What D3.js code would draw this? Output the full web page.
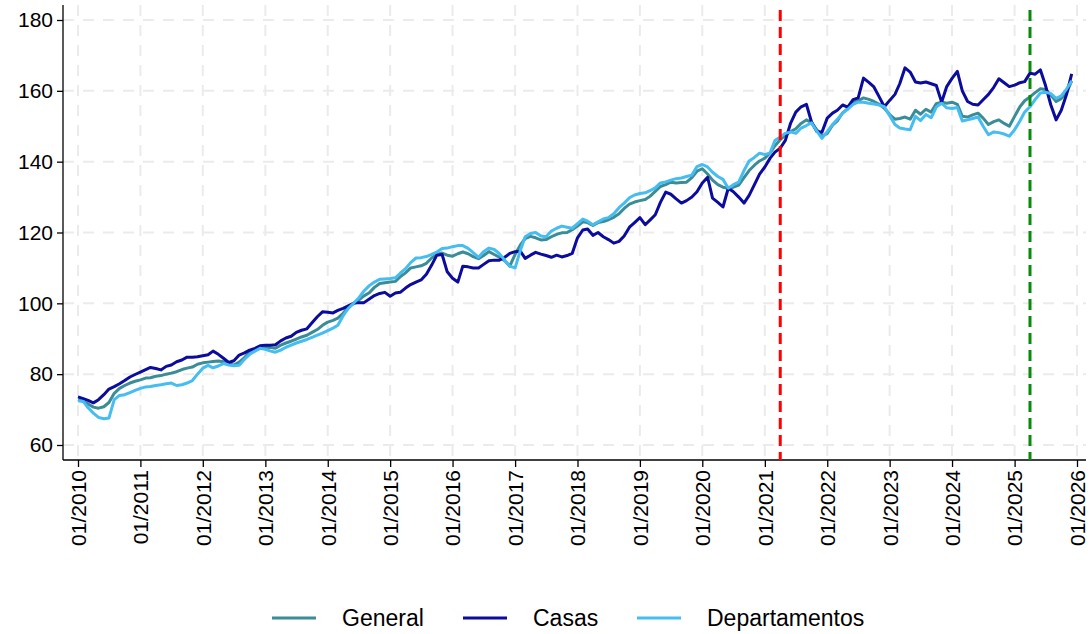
<!DOCTYPE html>
<html>
<head>
<meta charset="utf-8">
<script src="https://cdn.jsdelivr.net/npm/d3@7"></script>
<style>
  body { margin: 0; background: #fff; }
  svg { display: block; font-family: "Liberation Sans", Arial, sans-serif; }
</style>
</head>
<body>
<script>
// monthly index, 01/2010 .. 12/2025
const startMonth = "2010-01";
const endMonth = "2026-01";

const general = [
  72.8, 72.3, 71.6, 70.7, 70.4, 70.8, 72.0, 74.6, 76.0, 76.8, 77.5, 78.0,
  78.4, 78.9, 79.0, 79.4, 79.6, 80.0, 80.3, 80.7, 81.3, 81.7, 82.0, 82.8,
  83.2, 83.4, 83.6, 83.7, 83.5, 82.9, 82.6, 83.4, 84.7, 86.2, 87.0, 87.6,
  87.6, 87.5, 87.3, 88.2, 88.8, 89.3, 89.9, 90.5, 91.0, 91.8, 92.6, 93.8,
  94.7, 95.2, 95.8, 97.2, 98.9, 100.0, 100.9, 102.1, 103.0, 104.5, 105.6, 105.8,
  106.0, 106.2, 107.5, 108.6, 110.0, 110.3, 110.6, 111.3, 112.8, 113.8, 114.2, 113.6,
  113.3, 114.0, 114.5, 114.0, 113.2, 112.6, 113.5, 114.6, 113.8, 113.0, 112.0, 110.5,
  113.8, 116.5, 118.3, 118.9, 118.5, 117.9, 118.0, 118.8, 119.5, 119.9, 120.0, 120.8,
  121.8, 123.0, 122.8, 122.0, 122.8, 123.1, 123.6, 124.3, 125.3, 126.8, 128.0, 128.6,
  129.0, 129.3, 130.2, 131.6, 133.0, 133.5, 134.2, 134.0, 134.1, 134.2, 135.5, 137.3,
  138.0, 136.5, 134.8, 133.5, 132.8, 132.5, 132.8, 133.4, 135.5, 137.5, 139.0, 140.2,
  141.0, 142.5, 144.5, 146.2, 147.5, 148.5, 149.3, 150.8, 151.8, 151.0, 149.0, 147.2,
  148.0, 150.3, 151.5, 153.8, 155.0, 156.8, 157.2, 158.0, 157.6, 157.0, 156.2, 155.1,
  153.3, 152.0, 152.2, 152.6, 152.0, 154.5, 153.4, 154.8, 154.0, 156.4, 156.8, 156.5,
  156.8, 156.2, 152.8, 152.6, 153.2, 153.7, 152.3, 150.5, 151.3, 151.8, 150.8, 150.0,
  152.8, 155.5, 157.2, 158.3, 159.5, 160.6, 160.4, 158.8, 157.0, 157.8, 159.5, 162.8
];

const casas = [
  73.6, 73.1, 72.6, 71.9, 72.8, 74.2, 75.8, 76.5, 77.3, 78.2, 79.2, 79.9,
  80.6, 81.3, 81.9, 81.6, 81.2, 82.2, 82.6, 83.5, 84.0, 84.8, 84.8, 84.9,
  85.2, 85.5, 86.5, 85.6, 84.5, 83.3, 83.8, 85.4, 86.0, 86.8, 87.3, 88.0,
  88.2, 88.2, 88.3, 89.4, 90.2, 90.7, 91.8, 92.4, 92.8, 94.5, 96.2, 97.6,
  97.5, 97.3, 98.0, 98.6, 99.3, 100.0, 100.2, 100.2, 101.2, 102.2, 102.8, 103.1,
  102.0, 102.9, 103.1, 104.3, 105.3, 106.0, 106.6, 108.2, 110.8, 113.6, 113.8, 108.9,
  107.1, 106.0, 110.5, 110.3, 110.0, 110.0, 111.0, 112.0, 112.2, 112.2, 113.0, 114.1,
  114.6, 114.7, 112.7, 113.6, 114.4, 113.9, 113.5, 113.0, 113.6, 113.1, 113.5, 114.1,
  118.5, 120.7, 121.0, 119.2, 120.0, 118.8, 118.0, 117.0, 117.5, 119.0, 121.5, 122.8,
  124.2, 122.2, 123.5, 125.0, 128.5, 131.4, 130.8, 129.5, 128.3, 129.0, 130.0, 131.5,
  134.0, 135.6, 129.7, 128.5, 127.2, 132.5, 131.5, 130.0, 128.3, 130.5, 133.5, 136.5,
  138.5, 141.0, 142.7, 143.8, 146.0, 150.9, 154.0, 155.5, 156.2, 151.2, 148.5, 148.3,
  152.3, 153.7, 154.5, 156.0, 155.4, 157.5, 158.0, 163.6, 162.4, 161.1, 158.3, 155.5,
  157.3, 159.0, 162.0, 166.5, 165.3, 162.5, 162.2, 162.5, 162.0, 161.5, 156.8, 161.2,
  163.5, 165.5, 160.0, 157.0, 156.2, 156.0, 157.5, 159.0, 161.0, 163.4, 162.3, 161.2,
  161.6, 162.3, 162.6, 165.0, 164.7, 165.9, 161.5, 156.0, 151.8, 154.5, 159.0, 164.8
];

const departamentos = [
  72.5, 72.3, 70.5, 69.0, 67.8, 67.4, 67.6, 72.8, 74.0, 74.2, 74.8, 75.4,
  76.0, 76.4, 76.5, 76.8, 77.0, 77.3, 77.5, 76.8, 77.0, 77.5, 78.2, 80.0,
  81.7, 82.5, 81.8, 82.3, 83.0, 82.6, 82.4, 82.5, 84.2, 85.6, 86.5, 87.3,
  87.0, 86.5, 86.2, 86.8, 87.6, 88.2, 88.8, 89.3, 89.8, 90.4, 91.0, 91.6,
  92.3, 93.0, 93.8, 96.5, 98.6, 100.0, 101.5, 103.5, 105.0, 106.0, 106.8, 106.9,
  107.0, 107.2, 108.5, 109.8, 111.5, 112.8, 112.9, 113.2, 113.8, 114.5, 115.5, 115.6,
  116.0, 116.3, 116.3, 115.5, 114.3, 113.0, 114.6, 115.6, 115.2, 114.0, 112.2, 110.5,
  110.0, 115.0, 118.8, 119.7, 120.0, 119.0, 118.8, 120.4, 121.2, 121.8, 121.5, 121.2,
  122.5, 123.8, 123.2, 122.2, 123.0, 123.8, 124.2, 125.3, 127.0, 128.3, 129.8, 130.6,
  131.0, 131.2, 131.8, 132.6, 134.0, 134.3, 134.8, 135.2, 135.4, 135.8, 136.2, 138.6,
  139.2, 138.5, 137.0, 135.8, 135.0, 132.5, 133.5, 134.2, 137.5, 140.2, 141.2, 142.4,
  142.0, 142.5, 146.0, 147.0, 148.0, 148.4, 148.0, 149.5, 150.2, 151.0, 148.6, 146.6,
  148.5, 150.5, 152.0, 153.7, 154.8, 156.2, 156.8, 156.8, 156.5, 156.3, 156.0, 155.5,
  153.0, 150.5, 149.5, 149.2, 149.0, 152.8, 151.6, 153.3, 152.4, 155.4, 156.5, 155.2,
  155.0, 155.3, 151.5, 151.8, 152.2, 152.6, 150.0, 147.6, 148.4, 148.2, 147.8, 147.2,
  149.0, 151.5, 154.0, 155.5, 157.5, 159.4, 159.6, 159.2, 157.9, 158.6, 160.5, 162.8
];

const yTicks = [60, 80, 100, 120, 140, 160, 180];
const xTickLabels = ["01/2010", "01/2011", "01/2012", "01/2013", "01/2014", "01/2015",
  "01/2016", "01/2017", "01/2018", "01/2019", "01/2020", "01/2021", "01/2022",
  "01/2023", "01/2024", "01/2025", "01/2026"];
const markers = [{ month: "2021-04", color: "#ff0000" }, { month: "2025-04", color: "#0a8a0a" }];

const seriesNames = ["General", "Casas", "Departamentos"];
const seriesColors = ["#3a8c97", "#0b0b9e", "#45bdf0"];

const W = 1092, H = 634;
const parseM = d3.utcParse("%Y-%m");
const parseT = d3.utcParse("%m/%Y");
const months = d3.utcMonth.range(parseM(startMonth), parseM(endMonth));

const x = d3.scaleUtc()
  .domain([parseM(startMonth), parseM(endMonth)])
  .range([78, 1077]);
const y = d3.scaleLinear().domain([60, 180]).range([445, 20]);

const plotL = 63, plotR = 1086, plotT = 5, plotB = 460;

const svg = d3.select("body").append("svg")
  .attr("width", W).attr("height", H);

// grid
svg.append("g").selectAll("line")
  .data(yTicks).join("line")
  .attr("x1", plotL).attr("x2", plotR)
  .attr("y1", d => y(d)).attr("y2", d => y(d))
  .attr("stroke", "#ebebeb").attr("stroke-width", 2)
  .attr("stroke-dasharray", "11,9");

svg.append("g").selectAll("line")
  .data(xTickLabels).join("line")
  .attr("x1", d => x(parseT(d))).attr("x2", d => x(parseT(d)))
  .attr("y1", plotT).attr("y2", plotB)
  .attr("stroke", "#ebebeb").attr("stroke-width", 2)
  .attr("stroke-dasharray", "11,9");

// axes
const yAxis = d3.axisLeft(y).tickValues(yTicks).tickSize(6).tickPadding(4);
const gy = svg.append("g").attr("transform", `translate(${plotL},0)`).call(yAxis);
gy.select(".domain").remove();
gy.selectAll("line").attr("stroke", "#000").attr("stroke-width", 1.3);
gy.selectAll("text").attr("font-size", 21).attr("fill", "#000")
  .attr("font-family", "'Liberation Sans', Arial, sans-serif");

const xAxis = d3.axisBottom(x)
  .tickValues(xTickLabels.map(parseT))
  .tickFormat(d3.utcFormat("%m/%Y"))
  .tickSize(7).tickPadding(4);
const gx = svg.append("g").attr("transform", `translate(0,${plotB})`).call(xAxis);
gx.select(".domain").remove();
gx.selectAll("line").attr("stroke", "#000").attr("stroke-width", 1.3);
gx.selectAll("text")
  .attr("font-size", 21).attr("fill", "#000")
  .attr("font-family", "'Liberation Sans', Arial, sans-serif")
  .attr("transform", "rotate(-90)")
  .attr("text-anchor", "end")
  .attr("x", -10).attr("y", 0).attr("dy", "0.35em");

svg.append("line").attr("x1", plotL).attr("x2", plotL).attr("y1", plotT).attr("y2", plotB)
  .attr("stroke", "#000").attr("stroke-width", 1.3);
svg.append("line").attr("x1", plotL).attr("x2", plotR).attr("y1", plotB).attr("y2", plotB)
  .attr("stroke", "#000").attr("stroke-width", 1.3);

// series
const line = d3.line().x((d, i) => x(months[i])).y(d => y(d));
[general, casas, departamentos].forEach((vals, k) => {
  svg.append("path").datum(vals)
    .attr("fill", "none")
    .attr("stroke", seriesColors[k])
    .attr("stroke-width", 3)
    .attr("stroke-linejoin", "round")
    .attr("d", line);
});

// event markers
svg.append("g").selectAll("line")
  .data(markers).join("line")
  .attr("x1", d => x(parseM(d.month))).attr("x2", d => x(parseM(d.month)))
  .attr("y1", plotT + 5).attr("y2", plotB)
  .attr("stroke", d => d.color).attr("stroke-width", 3)
  .attr("stroke-dasharray", "11,6");

// legend
const legendX = [272, 463, 637];
const lg = svg.append("g").selectAll("g")
  .data(seriesNames).join("g")
  .attr("transform", (d, i) => `translate(${legendX[i]},618)`);
lg.append("line").attr("x1", 0).attr("x2", 44).attr("y1", 0).attr("y2", 0)
  .attr("stroke", (d, i) => seriesColors[i]).attr("stroke-width", 3);
lg.append("text").attr("x", 70).attr("dy", "0.35em")
  .attr("font-size", 23).attr("fill", "#000").text(d => d);
</script>
</body>
</html>
